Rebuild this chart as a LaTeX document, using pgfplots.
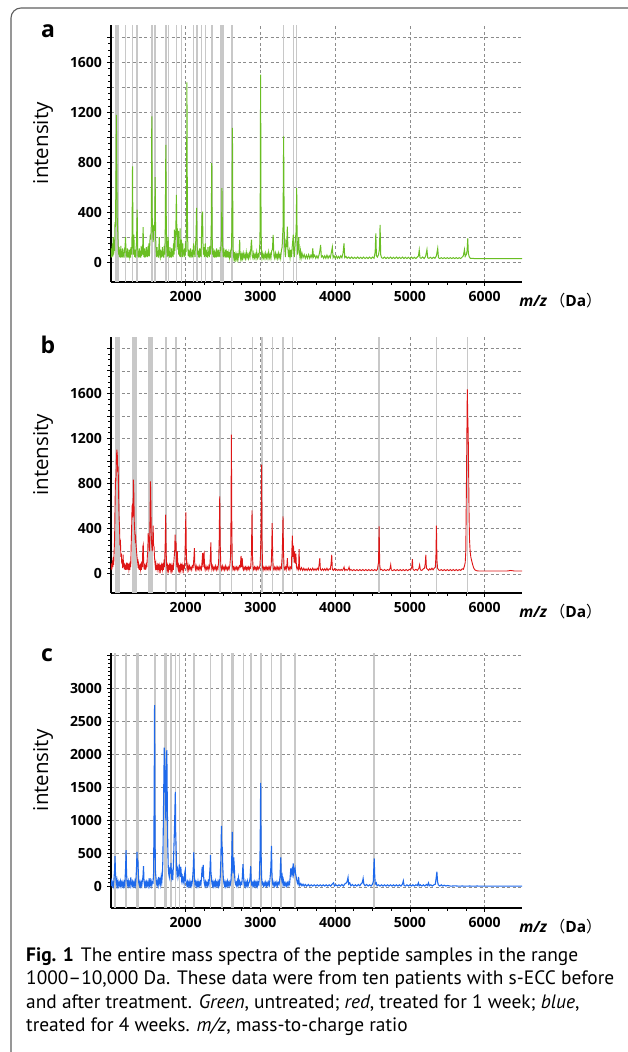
\documentclass[border=0pt]{standalone}
\usepackage{fontspec}
\setmainfont{Open Sans}
\newfontfamily\capfont{PT Sans}
\newfontfamily\cjk{Noto Sans CJK SC}
\usepackage{pgfplots}
\usepackage{pgfplotstable}
\pgfplotsset{compat=1.18}

\definecolor{specgreen}{RGB}{105,190,35}
\definecolor{specred}{RGB}{222,22,22}
\definecolor{specblue}{RGB}{30,105,235}
\definecolor{markgray}{RGB}{200,200,200}
\definecolor{gridgray}{RGB}{140,140,140}
\definecolor{framegray}{RGB}{95,95,95}

\pgfplotstableread{
x y
1000 35
1006 110
1012 40
1018 150
1024 45
1030 200
1036 60
1042 180
1048 90
1054 320
1060 280
1066 650
1072 1180
1078 700
1084 330
1090 250
1096 140
1102 60
1108 120
1114 40
1120 100
1126 35
1132 130
1138 40
1144 90
1150 35
1156 110
1162 45
1168 80
1174 35
1180 100
1188 120
1195 200
1202 45
1208 90
1214 35
1220 110
1226 40
1232 80
1238 35
1244 100
1250 45
1256 70
1262 35
1268 120
1276 60
1282 230
1288 766
1294 200
1300 60
1306 220
1312 70
1318 40
1324 100
1330 35
1336 110
1342 160
1350 420
1356 130
1362 40
1368 90
1374 35
1380 110
1386 40
1392 80
1398 35
1404 130
1410 50
1416 100
1422 60
1430 280
1436 70
1442 40
1448 110
1454 35
1460 90
1466 40
1472 120
1478 45
1484 100
1490 40
1496 130
1502 50
1508 150
1514 45
1520 160
1526 220
1532 180
1540 300
1546 1168
1552 350
1558 250
1564 160
1570 230
1576 300
1582 250
1586 330
1591 680
1597 200
1604 90
1610 40
1616 120
1622 45
1628 90
1634 35
1640 110
1646 200
1652 60
1658 40
1664 100
1670 35
1676 90
1682 40
1688 120
1694 45
1700 80
1706 35
1712 130
1720 60
1726 260
1734 940
1740 300
1746 120
1752 40
1758 100
1765 200
1771 50
1777 90
1783 35
1789 120
1795 40
1801 80
1807 35
1813 110
1819 45
1825 90
1831 40
1837 150
1843 60
1849 260
1855 90
1861 200
1868 260
1875 538
1882 200
1888 270
1894 100
1900 250
1906 60
1912 120
1918 45
1924 270
1930 40
1936 140
1942 180
1948 100
1954 40
1960 150
1966 60
1972 90
1978 40
1984 110
1990 45
1996 150
2004 80
2010 300
2016 1440
2022 400
2028 120
2034 50
2040 100
2046 40
2052 90
2058 35
2064 110
2070 45
2076 80
2082 35
2088 100
2094 40
2100 90
2106 150
2112 60
2118 90
2124 40
2130 130
2138 200
2145 434
2151 180
2157 60
2163 100
2169 40
2175 90
2181 35
2187 110
2193 45
2199 100
2205 40
2211 200
2218 380
2225 404
2231 150
2237 60
2243 120
2249 40
2255 90
2262 150
2268 45
2274 100
2280 40
2286 80
2292 35
2298 120
2304 50
2310 90
2316 40
2322 130
2328 60
2334 90
2341 250
2348 793
2354 200
2360 60
2366 110
2372 40
2378 90
2384 35
2390 100
2396 40
2402 80
2408 35
2414 110
2420 45
2426 90
2432 40
2438 100
2444 45
2450 80
2456 40
2462 120
2468 90
2474 150
2479 200
2485 592
2491 220
2497 90
2503 40
2509 110
2515 45
2521 80
2527 35
2533 100
2539 40
2545 70
2551 35
2557 90
2563 40
2569 70
2575 35
2581 80
2587 40
2593 70
2599 35
2605 90
2612 100
2618 300
2625 1075
2631 250
2637 60
2643 35
2649 80
2655 35
2661 60
2667 30
2673 70
2679 35
2685 60
2691 30
2697 70
2703 35
2709 60
2715 80
2722 177
2728 50
2734 30
2740 70
2746 35
2752 60
2760 30
2770 70
2780 35
2790 60
2800 30
2810 80
2820 35
2830 60
2840 30
2850 70
2860 40
2870 100
2880 180
2890 50
2900 30
2910 70
2920 35
2930 60
2940 30
2950 80
2960 35
2970 60
2980 40
2990 120
2996 300
3002 1503
3008 300
3014 60
3020 30
3030 70
3040 35
3050 60
3060 30
3070 70
3080 35
3090 60
3100 30
3110 80
3120 35
3130 60
3140 30
3150 90
3160 100
3170 217
3180 50
3190 30
3200 70
3210 35
3220 60
3230 30
3240 70
3250 35
3260 60
3270 30
3280 90
3290 120
3302 280
3310 1007
3318 250
3326 100
3334 40
3342 150
3350 120
3360 284
3368 100
3376 40
3386 90
3396 35
3406 100
3416 40
3426 130
3440 220
3446 80
3454 40
3462 120
3470 200
3478 250
3485 592
3491 150
3497 60
3505 120
3512 200
3520 80
3528 40
3536 90
3546 35
3556 70
3570 35
3585 60
3600 30
3615 55
3630 30
3645 60
3660 30
3675 55
3690 35
3700 110
3710 40
3725 55
3740 30
3755 50
3770 30
3785 60
3795 90
3805 137
3815 40
3830 50
3845 30
3860 50
3875 30
3890 55
3905 30
3920 50
3935 35
3950 80
3962 120
3972 35
3985 50
4000 30
4015 50
4030 30
4045 45
4060 30
4075 50
4090 35
4105 70
4118 150
4128 35
4145 45
4160 30
4180 40
4200 28
4220 40
4240 28
4260 38
4280 28
4300 40
4320 28
4340 38
4360 28
4380 40
4400 28
4420 38
4440 28
4460 40
4480 28
4500 40
4520 30
4535 80
4544 230
4552 50
4565 40
4580 60
4592 100
4601 298
4609 60
4620 35
4640 30
4660 40
4680 28
4700 38
4720 28
4740 40
4760 28
4780 38
4800 28
4820 40
4840 28
4860 38
4880 28
4900 40
4920 28
4940 38
4960 28
4980 38
5000 28
5020 40
5040 28
5060 38
5080 28
5100 40
5115 50
5125 96
5135 35
5150 30
5170 40
5190 28
5210 45
5228 100
5238 35
5255 30
5275 38
5295 28
5315 38
5335 30
5355 50
5372 110
5382 35
5400 28
5420 35
5440 28
5460 35
5480 28
5500 35
5520 28
5540 35
5560 28
5580 35
5600 28
5620 35
5640 28
5660 35
5680 28
5700 40
5715 50
5730 100
5740 45
5755 60
5765 90
5774 190
5782 70
5795 40
5810 30
5830 30
5860 28
5900 28
5950 28
6000 28
6050 28
6100 28
6200 28
6300 28
6400 28
6500 28
}\dataA

\pgfplotstableread{
x y
1000 30
1006 90
1012 40
1018 120
1024 60
1030 150
1036 80
1042 200
1048 300
1054 600
1060 850
1066 820
1072 1000
1078 1102
1084 1060
1090 900
1096 950
1102 700
1108 500
1114 420
1120 250
1126 300
1132 150
1138 180
1144 90
1150 120
1156 50
1162 170
1168 60
1174 100
1180 40
1186 90
1192 35
1198 80
1204 35
1210 100
1216 40
1222 70
1228 35
1234 90
1240 40
1246 70
1252 35
1258 110
1264 60
1270 250
1276 400
1282 600
1288 613
1294 500
1300 835
1306 700
1312 450
1318 380
1324 300
1330 320
1336 250
1342 200
1348 150
1354 120
1360 80
1366 100
1372 40
1378 80
1384 35
1390 90
1396 40
1402 70
1408 35
1414 110
1420 60
1426 240
1432 258
1438 80
1444 40
1450 90
1456 35
1462 80
1468 40
1474 100
1480 60
1486 150
1492 200
1498 361
1504 280
1510 330
1516 200
1522 500
1528 820
1534 600
1540 300
1546 250
1552 200
1558 300
1564 427
1570 250
1576 240
1582 150
1588 100
1594 60
1600 90
1606 35
1612 80
1618 40
1624 70
1630 35
1636 90
1642 40
1648 70
1654 35
1660 80
1666 40
1672 70
1678 35
1684 90
1690 40
1696 70
1702 35
1708 90
1714 60
1720 150
1726 280
1732 524
1738 200
1744 80
1750 40
1756 70
1762 35
1768 80
1774 40
1780 70
1786 35
1792 90
1798 40
1804 70
1810 35
1816 80
1822 40
1828 70
1834 35
1840 100
1846 150
1852 200
1858 347
1864 200
1870 287
1876 100
1882 60
1888 200
1894 60
1900 35
1906 70
1912 40
1918 80
1924 35
1930 70
1936 40
1942 90
1948 35
1954 70
1960 40
1966 80
1972 35
1978 70
1984 60
1990 150
1996 350
2002 545
2008 200
2014 60
2020 35
2030 80
2040 35
2050 70
2060 40
2070 60
2080 35
2090 70
2100 60
2110 150
2116 228
2122 80
2130 40
2140 70
2150 35
2160 60
2170 40
2180 70
2190 35
2200 60
2210 40
2220 120
2226 184
2232 60
2240 170
2246 184
2252 60
2260 35
2270 70
2280 40
2290 60
2300 35
2310 70
2320 50
2330 150
2336 278
2342 100
2350 40
2360 70
2370 35
2380 60
2390 40
2400 70
2410 35
2420 60
2430 40
2440 100
2448 300
2455 687
2462 250
2470 60
2480 35
2490 70
2500 40
2510 60
2520 35
2530 70
2540 40
2550 60
2560 35
2570 60
2580 40
2590 70
2600 150
2606 500
2611 1235
2617 400
2624 80
2632 40
2640 60
2650 35
2660 60
2670 40
2680 60
2690 35
2700 60
2710 40
2720 70
2730 60
2740 160
2748 60
2756 140
2764 50
2772 35
2780 60
2790 40
2800 60
2810 35
2820 60
2830 40
2840 60
2850 35
2860 60
2870 50
2880 200
2887 563
2894 150
2902 50
2910 35
2920 60
2930 40
2940 60
2950 35
2960 60
2970 40
2980 60
2990 50
3000 150
3008 400
3015 969
3021 300
3028 60
3036 35
3044 60
3054 40
3064 60
3074 35
3084 60
3094 40
3104 60
3114 35
3124 60
3134 40
3144 80
3150 200
3157 450
3164 150
3172 50
3180 35
3190 60
3200 40
3210 60
3220 35
3230 60
3240 40
3250 60
3260 35
3270 60
3280 50
3290 150
3296 300
3302 510
3308 200
3316 60
3324 40
3334 60
3344 35
3354 80
3360 140
3366 60
3374 40
3384 60
3394 35
3404 60
3414 50
3420 200
3427 338
3434 150
3442 250
3450 100
3458 200
3466 90
3474 180
3482 60
3490 40
3500 60
3510 40
3517 220
3524 50
3535 35
3550 55
3565 30
3580 50
3595 30
3610 45
3625 30
3640 50
3655 30
3670 45
3685 30
3700 50
3715 30
3730 45
3745 30
3760 50
3775 35
3785 80
3794 139
3802 40
3815 30
3830 45
3845 30
3860 45
3875 30
3890 50
3905 30
3920 45
3935 40
3945 90
3954 169
3962 40
3975 30
3990 45
4005 30
4020 40
4035 30
4050 40
4065 30
4080 40
4095 30
4110 45
4119 60
4128 30
4145 40
4160 30
4175 40
4186 60
4195 30
4210 40
4230 28
4250 38
4270 28
4290 38
4310 28
4330 38
4350 28
4370 38
4390 28
4410 38
4430 28
4450 38
4470 28
4490 38
4510 28
4530 38
4550 28
4565 40
4580 100
4588 421
4596 80
4605 35
4620 40
4640 28
4660 38
4680 28
4700 38
4720 30
4735 50
4743 80
4751 35
4770 28
4790 38
4810 28
4830 38
4850 28
4870 38
4890 28
4910 38
4930 28
4950 38
4970 28
4990 40
5010 35
5025 60
5033 130
5041 40
5060 30
5080 40
5100 30
5120 50
5130 80
5140 35
5160 30
5180 45
5195 50
5205 90
5213 169
5221 50
5235 40
5250 30
5265 45
5280 35
5295 50
5310 35
5325 50
5340 60
5348 150
5355 427
5362 120
5370 50
5385 35
5400 30
5420 38
5440 28
5460 38
5480 28
5500 38
5520 28
5540 38
5560 28
5580 38
5600 28
5620 38
5640 28
5660 38
5680 30
5700 45
5715 40
5730 70
5740 100
5748 200
5755 700
5762 1200
5768 1636
5774 1400
5780 1250
5786 900
5792 500
5798 300
5806 200
5815 150
5825 120
5840 80
5855 50
5870 35
5890 28
5920 25
5960 25
6000 25
6050 25
6100 25
6150 25
6200 25
6250 25
6300 25
6350 30
6400 25
6450 25
6500 25
}\dataB

\pgfplotstableread{
x y
1000 10
1008 80
1016 20
1024 60
1032 15
1040 120
1048 250
1054 463
1060 200
1066 120
1072 40
1080 100
1088 20
1096 70
1104 15
1112 60
1120 20
1128 80
1136 15
1144 60
1152 20
1160 70
1168 15
1176 60
1184 20
1190 150
1196 300
1202 554
1208 200
1216 60
1224 20
1232 80
1240 15
1248 60
1256 20
1264 140
1272 60
1280 20
1288 70
1296 15
1304 60
1312 20
1320 80
1328 30
1336 150
1342 300
1348 529
1354 300
1360 403
1366 200
1372 60
1380 20
1388 70
1396 15
1404 60
1412 20
1420 100
1428 150
1435 312
1442 80
1450 20
1458 60
1466 15
1474 70
1482 20
1490 60
1498 15
1506 80
1514 30
1522 130
1530 40
1538 80
1546 20
1554 70
1562 60
1570 200
1577 1200
1583 2744
1589 800
1595 230
1601 150
1608 60
1616 20
1624 80
1632 30
1640 150
1648 60
1656 100
1664 40
1672 150
1680 80
1688 200
1694 400
1700 900
1706 1500
1713 2100
1720 1900
1727 1400
1734 1000
1740 1600
1747 2064
1754 1200
1760 600
1766 300
1772 200
1780 150
1788 300
1796 200
1803 362
1810 150
1818 200
1826 100
1834 300
1842 600
1850 900
1861 1435
1866 800
1871 619
1877 300
1883 200
1890 250
1897 150
1904 200
1915 340
1920 200
1926 150
1934 300
1940 200
1946 100
1954 150
1962 80
1970 120
1978 60
1986 200
1994 250
2000 100
2008 60
2016 20
2024 70
2032 15
2040 60
2048 20
2056 80
2064 20
2072 60
2080 20
2090 100
2100 250
2108 518
2116 150
2124 40
2132 70
2140 15
2148 60
2156 20
2164 80
2172 20
2180 60
2188 20
2196 70
2204 40
2212 150
2220 302
2226 150
2234 330
2240 150
2248 60
2256 20
2264 70
2272 15
2280 60
2290 20
2300 80
2310 30
2318 150
2326 300
2332 478
2338 200
2344 150
2350 60
2358 20
2366 70
2374 15
2382 60
2390 20
2398 80
2406 20
2414 60
2422 20
2430 70
2438 20
2446 80
2454 40
2462 150
2470 400
2478 921
2484 500
2490 604
2496 300
2502 150
2510 60
2518 20
2526 70
2534 15
2542 60
2550 20
2558 80
2566 20
2574 60
2582 20
2590 70
2598 40
2606 100
2614 300
2622 831
2628 300
2634 200
2642 443
2650 300
2658 100
2666 40
2674 60
2682 20
2690 80
2698 30
2706 130
2714 50
2722 80
2730 20
2740 60
2750 40
2758 150
2766 342
2772 200
2780 60
2788 20
2796 70
2804 15
2812 60
2820 20
2828 80
2836 20
2846 60
2854 80
2862 150
2869 312
2876 100
2882 40
2890 60
2898 15
2906 60
2914 20
2922 70
2930 15
2938 60
2946 20
2954 70
2962 15
2970 60
2978 40
2986 150
2996 600
3003 1571
3009 500
3015 150
3022 40
3030 60
3040 15
3050 60
3060 20
3070 70
3080 15
3090 60
3100 20
3110 70
3120 30
3130 150
3140 300
3147 619
3154 200
3160 60
3170 20
3180 70
3190 15
3200 60
3210 20
3220 70
3230 15
3240 60
3250 40
3262 150
3272 443
3279 150
3286 100
3292 150
3300 60
3306 100
3314 30
3320 60
3330 20
3340 60
3350 15
3360 60
3370 20
3380 70
3390 40
3398 150
3406 277
3414 200
3422 250
3430 200
3438 352
3446 200
3454 260
3462 287
3470 200
3478 150
3486 100
3494 60
3502 40
3510 150
3518 60
3526 20
3540 50
3555 15
3570 40
3585 12
3600 35
3620 12
3640 35
3660 12
3680 30
3700 12
3720 30
3740 12
3760 30
3780 12
3800 30
3820 12
3840 30
3860 12
3880 30
3900 12
3920 30
3940 12
3960 40
3978 60
3990 12
4010 30
4030 12
4050 30
4070 12
4090 35
4110 12
4130 45
4150 60
4160 80
4172 141
4180 40
4195 60
4210 15
4230 35
4250 12
4270 30
4290 12
4310 35
4330 15
4350 50
4362 60
4374 126
4384 40
4400 15
4420 35
4440 12
4460 30
4480 12
4500 40
4510 80
4516 250
4522 428
4528 200
4536 40
4550 60
4560 15
4580 30
4600 12
4620 30
4640 12
4660 30
4680 12
4700 30
4720 12
4740 30
4760 12
4780 30
4800 12
4820 30
4840 12
4860 30
4880 12
4900 40
4912 90
4922 20
4940 12
4960 30
4980 12
5000 30
5020 12
5040 30
5060 12
5080 30
5100 20
5114 60
5124 15
5140 30
5160 12
5180 30
5200 12
5220 35
5235 20
5249 60
5259 15
5280 30
5300 12
5320 30
5340 40
5350 120
5361 227
5370 80
5380 30
5400 12
5420 30
5440 12
5460 25
5480 12
5500 20
5550 10
5600 15
5650 10
5700 12
5750 10
5800 12
5850 10
5900 12
5950 10
6000 10
6100 10
6200 10
6300 10
6400 10
6500 10
}\dataC

\pgfplotsset{
  spec/.style={
    scale only axis, width=411pt,
    xmin=1000, xmax=6500,
    axis lines=left,
    axis line style={-, line width=1.6pt, black},
    tick align=outside,
    xtick={2000,3000,4000,5000,6000},
    xticklabels={2000,3000,4000,5000,6000},
    minor x tick num=3,
    major tick length=3.5pt, minor tick length=2.5pt,
    every tick/.style={black, line width=0.8pt},
    grid=major,
    major grid style={draw=gridgray, line width=0.6pt, dash pattern=on 3pt off 2.5pt},
    tick label style={font=\bfseries\fontsize{14}{16}\selectfont, text=black},
    xticklabel style={yshift=-2pt},
    yticklabel style={xshift=-2pt},
    ylabel={intensity},
    every axis y label/.style={at={(rel axis cs:-0.165,0.54)}, rotate=90, anchor=center, font=\fontsize{20.5}{24}\selectfont},
    xlabel={\textbf{\textit{m/z}}\,{\cjk （}\textbf{Da}{\cjk ）}},
    every axis x label/.style={at={(rel axis cs:0.985,-0.074)}, anchor=west, font=\fontsize{15.5}{18}\selectfont},
    unbounded coords=jump,
  },
  marks/.style={forget plot, no markers, draw=markgray, line width=#1},
}

\begin{document}
\begin{tikzpicture}
\path[use as bounding box] (0,0) rectangle (627pt,-1052pt);
\draw[framegray, line width=1.1pt, rounded corners=10pt] (11pt,-1062pt) -- (11pt,-8pt) -- (640pt,-8pt);

% ---------- panel a ----------
\begin{axis}[spec, at={(111pt,-282pt)}, anchor=south west, height=257pt,
  ymin=-160, ymax=1900,
  ytick={0,200,...,1800}, yticklabels={0,,400,,800,,1200,,1600,},
  minor y tick num=3]
\addplot[marks=1.6pt] coordinates {(1195,-160)(1195,1900)(1195,nan)(1288,-160)(1288,1900)(1288,nan)(1350,-160)(1350,1900)(1350,nan)(1591,-160)(1591,1900)(1591,nan)(1734,-160)(1734,1900)(1734,nan)(1768,-160)(1768,1900)(1768,nan)(1875,-160)(1875,1900)(1875,nan)(1945,-160)(1945,1900)(1945,nan)(2105,-160)(2105,1900)(2105,nan)(2148,-160)(2148,1900)(2148,nan)(2210,-160)(2210,1900)(2210,nan)(2262,-160)(2262,1900)(2262,nan)(2350,-160)(2350,1900)(2350,nan)(2622,-160)(2622,1900)(2622,nan)(3310,-160)(3310,1900)(3310,nan)(3440,-160)(3440,1900)(3440,nan)(3485,-160)(3485,1900)};
\addplot[marks=2.6pt] coordinates {(1546,-160)(1546,1900)};
\addplot[marks=4pt] coordinates {(1076,-160)(1076,1900)(1076,nan)(2485,-160)(2485,1900)};
\addplot[specgreen, line width=1.0pt, no markers] table[x=x, y=y] {\dataA};
\end{axis}

% ---------- panel b ----------
\begin{axis}[spec, at={(111pt,-593pt)}, anchor=south west, height=256pt,
  ymin=-170, ymax=2100,
  ytick={0,200,...,2000}, yticklabels={0,,400,,800,,1200,,1600,,},
  minor y tick num=3]
\addplot[marks=1.6pt] coordinates {(1732,-170)(1732,2100)(1732,nan)(1866,-170)(1866,2100)(1866,nan)(2455,-170)(2455,2100)(2455,nan)(2611,-170)(2611,2100)(2611,nan)(2892,-170)(2892,2100)(2892,nan)(3018,-170)(3018,2100)(3018,nan)(3160,-170)(3160,2100)(3160,nan)(3302,-170)(3302,2100)(3302,nan)(3427,-170)(3427,2100)(3427,nan)(4588,-170)(4588,2100)(4588,nan)(5355,-170)(5355,2100)(5355,nan)(5770,-170)(5770,2100)};
\addplot[marks=5pt] coordinates {(1092,-170)(1092,2100)(1092,nan)(1312,-170)(1312,2100)(1312,nan)(1535,-170)(1535,2100)};
\addplot[specred, line width=0.9pt, no markers] table[x=x, y=y] {\dataB};
\end{axis}

% ---------- panel c ----------
\begin{axis}[spec, at={(111pt,-908pt)}, anchor=south west, height=255pt,
  ymin=-320, ymax=3530,
  ytick={0,500,...,3500}, yticklabels={0,500,1000,1500,2000,2500,3000,},
  minor y tick num=7]
\addplot[marks=1.6pt] coordinates {(1054,-320)(1054,3530)(1054,nan)(1202,-320)(1202,3530)(1202,nan)(1586,-320)(1586,3530)(1586,nan)(1803,-320)(1803,3530)(1803,nan)(1861,-320)(1861,3530)(1861,nan)(1915,-320)(1915,3530)(1915,nan)(2108,-320)(2108,3530)(2108,nan)(2332,-320)(2332,3530)(2332,nan)(2772,-320)(2772,3530)(2772,nan)(2871,-320)(2871,3530)(2871,nan)(3005,-320)(3005,3530)(3005,nan)(3149,-320)(3149,3530)(3149,nan)(3275,-320)(3275,3530)(3275,nan)(3463,-320)(3463,3530)(3463,nan)(4522,-320)(4522,3530)};
\addplot[marks=2.4pt] coordinates {(1357,-320)(1357,3530)(1357,nan)(2485,-320)(2485,3530)(2485,nan)(2628,-320)(2628,3530)};
\addplot[marks=3.4pt] coordinates {(1727,-320)(1727,3530)};
\addplot[specblue, line width=1.1pt, no markers] table[x=x, y=y] {\dataC};
\end{axis}

% panel letters
\node[font=\bfseries\fontsize{23}{26}\selectfont] at (48pt,-31pt) {a};
\node[font=\bfseries\fontsize{23}{26}\selectfont] at (48pt,-345pt) {b};
\node[font=\bfseries\fontsize{23}{26}\selectfont] at (47pt,-655pt) {c};

% caption
\begin{scope}[every node/.style={anchor=base west, inner sep=0pt, font=\capfont\fontsize{19.4}{23}\selectfont}]
\node at (26pt,-961pt) {\textbf{Fig. 1}\hspace{7pt}The entire mass spectra of the peptide samples in the range};
\node at (26pt,-984.6pt) {1000–10,000 Da. These data were from ten patients with s-ECC before};
\node at (26pt,-1008.2pt) {and after treatment. \textit{Green}, untreated; \textit{red}, treated for 1 week; \textit{blue},};
\node at (26pt,-1031.8pt) {treated for 4 weeks. \textit{m/z}, mass-to-charge ratio};
\end{scope}
\end{tikzpicture}
\end{document}
